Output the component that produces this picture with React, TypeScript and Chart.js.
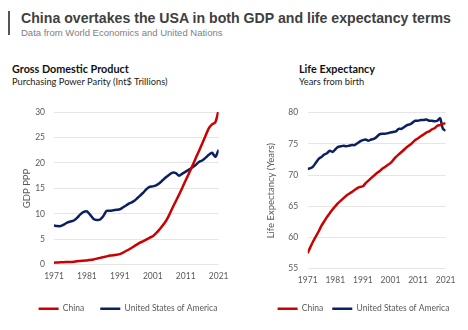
import React, { useEffect, useRef } from "react";
import { Chart, registerables } from "chart.js";

Chart.register(...registerables);

const years = [
  1971, 1972, 1973, 1974, 1975, 1976, 1977, 1978, 1979, 1980,
  1981, 1982, 1983, 1984, 1985, 1986, 1987, 1988, 1989, 1990,
  1991, 1992, 1993, 1994, 1995, 1996, 1997, 1998, 1999, 2000,
  2001, 2002, 2003, 2004, 2005, 2006, 2007, 2008, 2009, 2010,
  2011, 2012, 2013, 2014, 2015, 2016, 2017, 2018, 2019, 2020,
  2021,
];

const chinaGdp = [
  0.4, 0.45, 0.5, 0.5, 0.55, 0.55, 0.6, 0.7, 0.75, 0.8,
  0.85, 0.95, 1.05, 1.2, 1.35, 1.5, 1.65, 1.8, 1.85, 1.95,
  2.1, 2.4, 2.75, 3.1, 3.5, 3.9, 4.3, 4.6, 4.95, 5.3,
  5.6, 6.2, 6.9, 7.7, 8.6, 9.8, 11.2, 12.5, 13.8, 15.2,
  16.6, 18.0, 19.4, 20.9, 22.3, 23.8, 25.3, 26.8, 27.6, 28.0,
  30.4,
];

const usaGdp = [
  7.7, 7.6, 7.6, 7.9, 8.3, 8.5, 8.7, 9.2, 9.9, 10.4,
  10.5, 9.8, 9.0, 8.8, 8.9, 9.6, 10.6, 10.6, 10.7, 10.8,
  10.9, 11.3, 11.7, 12.1, 12.4, 12.9, 13.5, 14.1, 14.8, 15.3,
  15.4, 15.6, 16.0, 16.6, 17.2, 17.7, 18.1, 18.0, 17.5, 17.9,
  18.3, 18.7, 19.1, 19.6, 20.2, 20.5, 21.0, 21.6, 22.0, 21.2,
  22.6,
];

const chinaLife = [
  57.5, 58.5, 59.4, 60.2, 61.0, 61.9, 62.6, 63.3, 63.9, 64.5,
  65.0, 65.5, 65.9, 66.3, 66.7, 67.0, 67.3, 67.6, 67.9, 68.1,
  68.2, 68.7, 69.1, 69.5, 69.9, 70.3, 70.6, 71.0, 71.3, 71.6,
  71.9, 72.4, 72.9, 73.3, 73.7, 74.1, 74.5, 74.8, 75.2, 75.6,
  75.9, 76.2, 76.5, 76.8, 77.0, 77.3, 77.5, 77.9, 78.0, 78.2,
  78.3,
];

const usaLife = [
  71.0, 71.1, 71.4, 72.0, 72.6, 72.9, 73.3, 73.5, 73.9, 73.7,
  74.1, 74.5, 74.6, 74.7, 74.6, 74.7, 74.8, 74.8, 75.1, 75.4,
  75.6, 75.7, 75.5, 75.7, 75.8, 76.1, 76.5, 76.6, 76.6, 76.7,
  76.8, 76.9, 77.0, 77.4, 77.4, 77.7, 78.0, 78.1, 78.4, 78.7,
  78.7, 78.8, 78.8, 78.9, 78.7, 78.7, 78.6, 78.7, 79.1, 77.4,
  77.1,
];

const seriesNames = ["China", "United States of America"];
const xTicks = [1971, 1981, 1991, 2001, 2011, 2021];

const RED = "#cc0000";
const BLUE = "#0c1f60";
const TICK = "#595959";
const FONT = "Lato, 'Open Sans', sans-serif";

function pts(vals: number[]) {
  return years.map((y, i) => ({ x: y, y: vals[i] }));
}

type Opts = {
  yMin: number;
  yMax: number;
  yTitle: string;
  yWidth: number;
  yPad: number;
  xHeight: number;
  legendPad: number;
};

function makeConfig(china: number[], usa: number[], o: Opts): any {
  return {
    type: "line",
    data: {
      datasets: [
        {
          label: seriesNames[0],
          data: pts(china),
          borderColor: RED,
          backgroundColor: RED,
          borderWidth: 2.5,
          pointRadius: 0,
          tension: 0.25,
        },
        {
          label: seriesNames[1],
          data: pts(usa),
          borderColor: BLUE,
          backgroundColor: BLUE,
          borderWidth: 2.5,
          pointRadius: 0,
          tension: 0.25,
        },
      ],
    },
    options: {
      animation: false,
      responsive: false,
      maintainAspectRatio: false,
      layout: { padding: { left: 0, right: 0, top: 9, bottom: 0 } },
      plugins: {
        legend: {
          position: "bottom",
          labels: {
            usePointStyle: true,
            pointStyle: "line",
            pointStyleWidth: 20,
            color: TICK,
            font: { family: FONT, size: 8.5 },
            padding: o.legendPad,
          },
        },
        tooltip: { enabled: false },
      },
      scales: {
        x: {
          type: "linear",
          min: 1971,
          max: 2021,
          afterBuildTicks: (scale: any) => {
            scale.ticks = xTicks.map((v) => ({ value: v }));
          },
          afterFit: (scale: any) => {
            scale.height = o.xHeight;
          },
          ticks: {
            callback: (v: any) => String(v),
            color: TICK,
            font: { family: FONT, size: 8.5 },
            maxRotation: 0,
            padding: 6.5,
          },
          grid: { display: false, drawTicks: false },
          border: { display: false },
        },
        y: {
          min: o.yMin,
          max: o.yMax,
          afterFit: (scale: any) => {
            scale.width = o.yWidth;
          },
          ticks: {
            stepSize: 5,
            color: TICK,
            font: { family: FONT, size: 8.5 },
            padding: o.yPad,
          },
          grid: { color: "#e6e6e6", lineWidth: 1, drawTicks: false },
          border: { display: false },
          title: {
            display: true,
            text: o.yTitle,
            color: TICK,
            font: { family: FONT, size: 9.5 },
            padding: { top: 0, bottom: 0 },
          },
        },
      },
    },
  };
}

function ChartCanvas({ config, box }: { config: any; box: { left: number; top: number; width: number; height: number } }) {
  const ref = useRef<HTMLCanvasElement | null>(null);
  useEffect(() => {
    if (!ref.current) return;
    const chart = new Chart(ref.current, config);
    return () => chart.destroy();
  }, []);
  return (
    <canvas
      ref={ref}
      width={box.width}
      height={box.height}
      style={{ position: "absolute", left: box.left, top: box.top, width: box.width, height: box.height }}
    />
  );
}

const headStyle: React.CSSProperties = {
  position: "absolute",
  fontFamily: FONT,
  fontWeight: "bold",
  fontSize: 10.8,
  color: "#111111",
  whiteSpace: "nowrap",
  lineHeight: "16px",
};

const subStyle: React.CSSProperties = {
  position: "absolute",
  fontFamily: FONT,
  fontSize: 9.3,
  color: "#222222",
  whiteSpace: "nowrap",
  lineHeight: "14px",
};

export default function App() {
  const gdpConfig = makeConfig(chinaGdp, usaGdp, {
    yMin: 0,
    yMax: 30,
    yTitle: "GDP PPP",
    yWidth: 33,
    yPad: 9,
    xHeight: 23.75,
    legendPad: 16,
  });
  const lifeConfig = makeConfig(chinaLife, usaLife, {
    yMin: 55,
    yMax: 80,
    yTitle: "Life Expectancy (Years)",
    yWidth: 42.7,
    yPad: 9.5,
    xHeight: 26.75,
    legendPad: 9,
  });
  return (
    <div
      style={{
        position: "absolute",
        left: 0,
        top: 0,
        width: 468,
        height: 330,
        background: "#ffffff",
        overflow: "hidden",
      }}
    >
      <div style={{ position: "absolute", left: 8, top: 11, width: 2, height: 24, background: "#555555" }} />
      <div
        style={{
          position: "absolute",
          left: 21,
          top: 9,
          fontFamily: "'Liberation Sans', Arial, sans-serif",
          fontWeight: "bold",
          fontSize: 14.15,
          color: "#404040",
          whiteSpace: "nowrap",
          lineHeight: "18px",
        }}
      >
        China overtakes the USA in both GDP and life expectancy terms
      </div>
      <div
        style={{
          position: "absolute",
          left: 21,
          top: 26,
          fontFamily: "'Liberation Sans', Arial, sans-serif",
          fontSize: 9.5,
          color: "#808080",
          whiteSpace: "nowrap",
          lineHeight: "13px",
        }}
      >
        Data from World Economics and United Nations
      </div>

      <div style={{ ...headStyle, left: 12, top: 61 }}>Gross Domestic Product</div>
      <div style={{ ...subStyle, left: 12, top: 75 }}>Purchasing Power Parity (Int$ Trillions)</div>

      <div style={{ ...headStyle, left: 299, top: 61 }}>Life Expectancy</div>
      <div style={{ ...subStyle, left: 299, top: 75 }}>Years from birth</div>

      <ChartCanvas config={gdpConfig} box={{ left: 21, top: 98, width: 214, height: 225 }} />
      <ChartCanvas config={lifeConfig} box={{ left: 265, top: 98, width: 197, height: 225 }} />
    </div>
  );
}
